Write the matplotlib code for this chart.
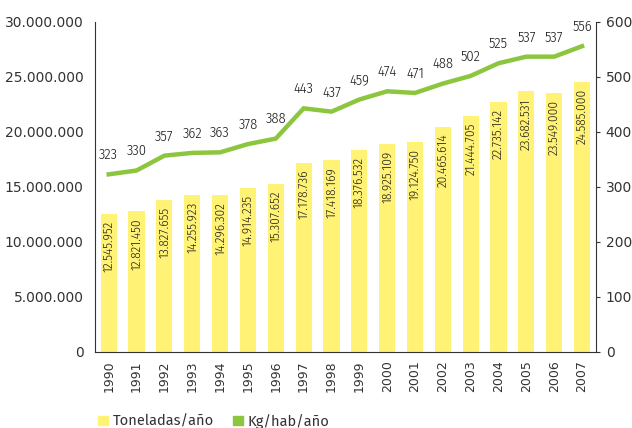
import matplotlib
matplotlib.use("Agg")
import matplotlib.pyplot as plt
from matplotlib.patches import Patch

years = [str(y) for y in range(1990, 2008)]
toneladas = [12545952, 12821450, 13827655, 14255923, 14296302, 14914235,
             15307652, 17178736, 17418169, 18376532, 18925109, 19124750,
             20465614, 21444705, 22735142, 23682531, 23549000, 24585000]
kg_hab = [323, 330, 357, 362, 363, 378, 388, 443, 437, 459, 474, 471,
          488, 502, 525, 537, 537, 556]

yellow = "#fff275"
green = "#8cc63e"
txt = "#333333"
narrow = ["Fira Sans Condensed", "PT Sans Narrow", "DejaVu Sans"]
legfont = ["Fira Sans", "Open Sans", "DejaVu Sans"]

def fmt(v):
    return f"{v:,}".replace(",", ".")

fig = plt.figure(figsize=(6.32, 4.28), dpi=100)
ax = fig.add_axes([0.150, 0.1776, 0.793, 0.771])
x = list(range(len(years)))

ax.bar(x, toneladas, width=0.58, color=yellow, zorder=1)
for i, v in enumerate(toneladas):
    ax.annotate(fmt(v), (i, v), xytext=(0, -5), textcoords="offset points",
                rotation=90, ha="center", va="top", fontsize=9.5,
                family=narrow, fontweight=300, color="#1a1a1a")

ax.set_xlim(-0.5, 17.5)
ax.set_ylim(0, 30000000)
ax.set_yticks(range(0, 30000001, 5000000))
ax.set_yticklabels([fmt(v) for v in range(0, 30000001, 5000000)])
ax.set_xticks(x)
ax.set_xticklabels(years, rotation=90)
ax.tick_params(axis="y", length=0, labelsize=10, labelcolor=txt, pad=8)
ax.tick_params(axis="x", length=0, labelsize=9, labelcolor=txt, pad=6)
ax.spines["top"].set_visible(False)
ax.spines["right"].set_visible(False)
for s in ("left", "bottom"):
    ax.spines[s].set_color(txt)

ax2 = ax.twinx()
ax2.plot(x, kg_hab, color=green, lw=3.2, solid_joinstyle="miter", zorder=3)
for i, v in enumerate(kg_hab):
    ax2.annotate(str(v), (i, v), xytext=(0, 14), textcoords="offset points",
                 ha="center", va="center", fontsize=10.5, family=narrow,
                 fontweight=300, color="#1a1a1a")
ax2.set_ylim(0, 600)
ax2.set_yticks(range(0, 601, 100))
ax2.tick_params(axis="y", length=3, labelsize=10, labelcolor=txt, color=txt, pad=4)
for s in ("top", "left", "bottom"):
    ax2.spines[s].set_visible(False)
ax2.spines["right"].set_color(txt)

handles = [Patch(color=yellow), Patch(color=green)]
fig.legend(handles, ["Toneladas/año", "Kg/hab/año"], loc="center left",
           bbox_to_anchor=(0.135, 0.016), ncol=2, frameon=False,
           prop={"family": legfont, "size": 10.5},
           handlelength=0.65, handleheight=0.65, handletextpad=0.35,
           columnspacing=1.3, labelcolor=txt)

fig.savefig("out.png", dpi=100)
